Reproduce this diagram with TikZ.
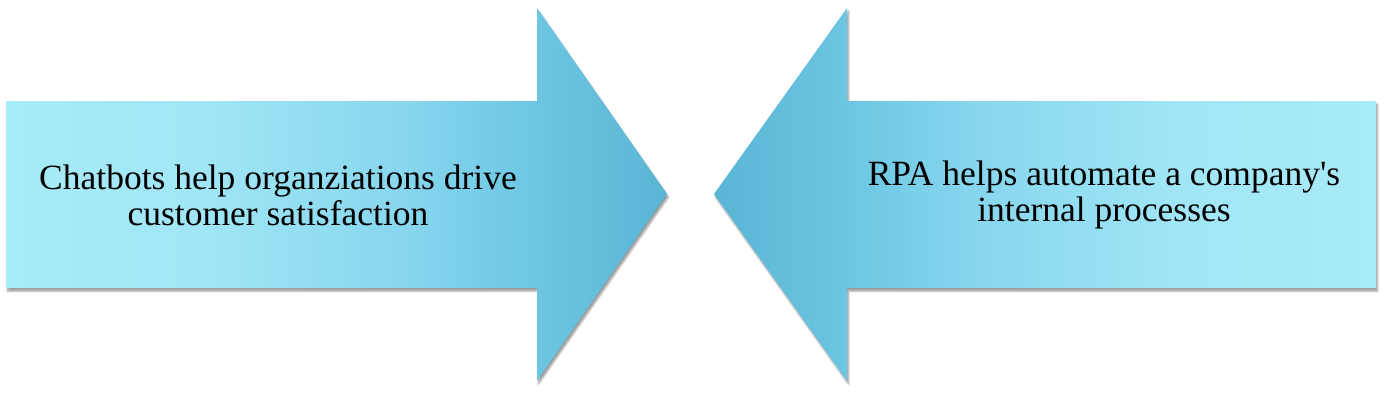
\documentclass[tikz,border=0pt]{standalone}
\usepackage{fontspec}
\setmainfont{Liberation Serif}[Ligatures=TeXOff]
\usetikzlibrary{shadows.blur}
\definecolor{cA}{HTML}{A8EBF9}
\definecolor{cA2}{HTML}{A0E6F6}
\definecolor{cB}{HTML}{88D7EE}
\definecolor{cC}{HTML}{6CC6E2}
\definecolor{cD}{HTML}{5AB4D4}
\pgfdeclarehorizontalshading{arrR}{100bp}{color(0bp)=(cA); color(25bp)=(cA); color(39.7bp)=(cA2); color(54.8bp)=(cB); color(65.2bp)=(cC); color(75bp)=(cD); color(100bp)=(cD)}
\pgfdeclarehorizontalshading{arrL}{100bp}{color(0bp)=(cD); color(25bp)=(cD); color(35bp)=(cC); color(45.2bp)=(cB); color(60.3bp)=(cA2); color(75bp)=(cA); color(100bp)=(cA)}
\tikzset{
  arrowshape/.style={blur shadow={shadow xshift=1.5pt, shadow yshift=-3pt, shadow opacity=40, shadow blur steps=6}},
  label/.style={align=center, font=\fontsize{35.5}{36}\selectfont, text=black, inner sep=0pt}
}
\begin{document}
\begin{tikzpicture}[x=1pt,y=1pt]
\useasboundingbox (0,0) rectangle (1390,400);
\path[arrowshape, shading=arrR]
  (6,299) -- (537,299) -- (537,392) -- (667,206) -- (537,19) -- (537,112) -- (6,112) -- cycle;
\path[arrowshape, shading=arrL]
  (1376,299) -- (847,299) -- (847,392) -- (714,206) -- (847,19) -- (847,112) -- (1376,112) -- cycle;
\node[label] (lt) at (278,205) {Chatbots help organziations drive\\customer satisfaction};
\node[label] (rt) at (1104,205) {RPA helps automate a company's\\internal processes};
\end{tikzpicture}
\end{document}
